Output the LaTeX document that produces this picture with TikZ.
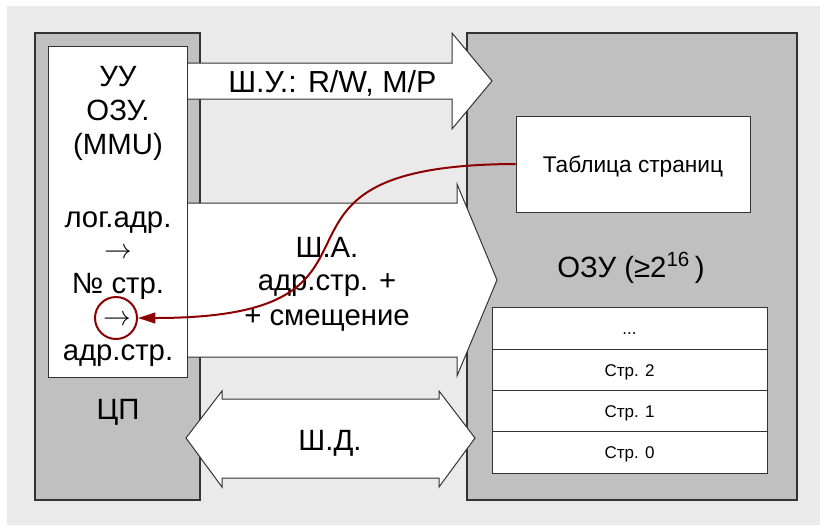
\documentclass[tikz,border=0pt]{standalone}
\usepackage{fontspec}
\setmainfont{Liberation Sans}
\usetikzlibrary{arrows.meta}
\definecolor{bgfill}{HTML}{EAEAEA}
\definecolor{unitfill}{HTML}{C0C0C0}
\definecolor{edge}{HTML}{333333}
\definecolor{linkred}{HTML}{8B0000}

\begin{document}
\begin{tikzpicture}[x=0.75pt,y=-0.75pt,
  unit/.style={fill=unitfill,draw=edge,line width=0.9pt},
  busarrow/.style={fill=white,draw=edge,line width=0.75pt,line join=miter},
  big/.style={font=\fontsize{22}{26}\selectfont,inner sep=0pt},
  mid/.style={font=\fontsize{17}{20}\selectfont,inner sep=0pt},
  cell/.style={draw=edge,fill=white,line width=0.75pt,minimum width=206.25pt,
    minimum height=31pt,inner sep=0pt,text height=9.5pt,text depth=0pt,
    font=\fontsize{12.75}{15}\selectfont},
  link/.style={draw=linkred,line width=1.5pt,-{Triangle[length=13pt,width=8pt]}},
]
\useasboundingbox (0,0) rectangle (820,525);
\fill[white] (0,0) rectangle (820,525);
\fill[bgfill] (7,6) rectangle (820,525);

% processor and memory blocks
\draw[unit] (35,33) rectangle (200,500);
\draw[unit] (467,33) rectangle (797,500);

% buses
\draw[busarrow] (187,63) -- (452,63) -- (452,33) -- (492,81) -- (452,129)
  -- (452,99) -- (187,99) -- cycle;
\draw[busarrow] (187,203) -- (457,203) -- (457,184) -- (497,280) -- (457,376)
  -- (457,357) -- (187,357) -- cycle;
\draw[busarrow] (186,438) -- (222,391) -- (222,399) -- (439,399) -- (439,391)
  -- (475,438) -- (439,487) -- (439,478) -- (222,478) -- (222,487) -- cycle;

% memory management unit
\node[draw=edge,fill=white,line width=0.75pt,minimum width=104.25pt,
  minimum height=248.25pt,inner sep=0pt] (mmu) at (117.5,211.5) {};
\node[big,anchor=base] (uu) at (118,86) {УУ};
\node[big,anchor=base] (ozu) at (118,120) {ОЗУ.};
\node[big,anchor=base] (mmuname) at (118,154) {(MMU)};
\node[big,anchor=base] (logaddr) at (118,227) {лог.адр.};
\node[big,anchor=base] (step1) at (118,258) {$\rightarrow$};
\node[big,anchor=base] (pagenum) at (118,293) {№ стр.};
\node[big,anchor=base] (step2) at (117,325) {$\rightarrow$};
\node[draw=linkred,circle,line width=1.5pt,minimum size=31.5pt,inner sep=0pt]
  (circ) at (116,318) {};
\node[big,anchor=base] (pageaddr) at (118,360) {адр.стр.};
\node[big,anchor=base] (cpu) at (118,419) {ЦП};

% bus labels
\node[big,font=\fontsize{22.8}{26}\selectfont,anchor=base west] (cbus) at (228,92)
  {Ш.У.: R/W, M/P};
\node[big,anchor=base] (abus1) at (327,257) {Ш.А.};
\node[big,anchor=base] (abus2) at (327,290) {адр.стр. +};
\node[big,anchor=base] (abus3) at (327,325) {+ смещение};
\node[big,anchor=base] (dbus) at (330,450) {Ш.Д.};

% memory contents
\node[draw=edge,fill=white,line width=0.75pt,minimum width=175.5pt,
  minimum height=72pt,mid,text height=12.5pt,text depth=0pt] (tbl) at (633,164)
  {Таблица страниц};
\node[big,anchor=base] (ram) at (631,277) {ОЗУ (≥2\textsuperscript{16}\,)};
\node[cell] (pdots) at (629.5,328.5) {...};
\node[cell] (p2) at (629.5,370) {Стр. 2};
\node[cell] (p1) at (629.5,411.5) {Стр. 1};
\node[cell] (p0) at (629.5,452.5) {Стр. 0};

% page table lookup
\draw[link] (tbl.west) .. controls (220,165) and (432,318) .. (circ.east);
\end{tikzpicture}
\end{document}
